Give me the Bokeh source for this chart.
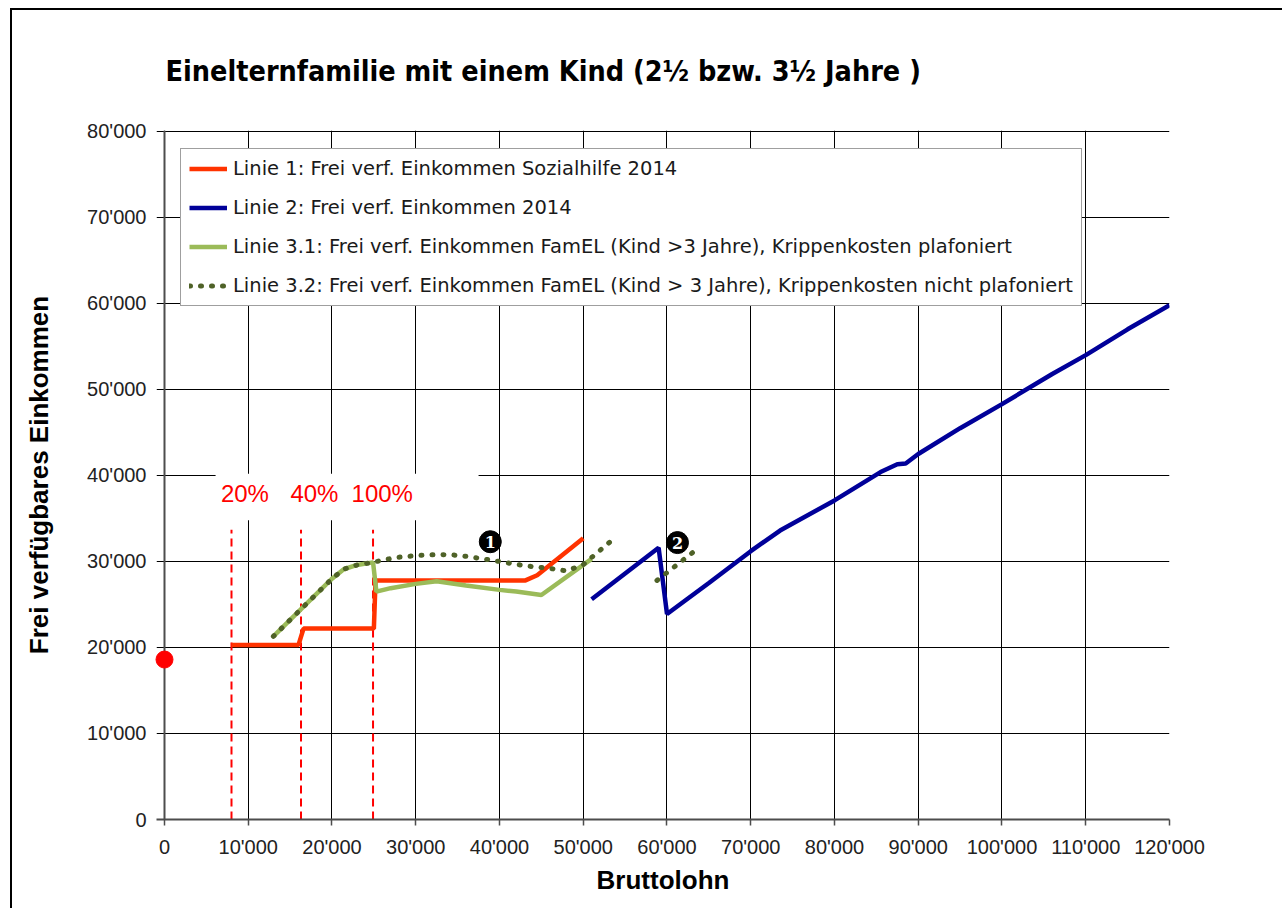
from bokeh.plotting import figure
from bokeh.models import Range1d, FixedTicker, Legend, LegendItem, Span
from bokeh.core.properties import value
from bokeh.embed import file_html
from bokeh.resources import INLINE

# ---------------- data ----------------
title_text = "Einelternfamilie mit einem Kind (2½ bzw. 3½ Jahre )"
x_axis_title = "Bruttolohn"
y_axis_title = "Frei verfügbares Einkommen"

x_ticks = [0, 10000, 20000, 30000, 40000, 50000, 60000, 70000, 80000, 90000, 100000, 110000, 120000]
x_tick_labels = ["0", "10'000", "20'000", "30'000", "40'000", "50'000", "60'000", "70'000",
                 "80'000", "90'000", "100'000", "110'000", "120'000"]
y_ticks = [0, 10000, 20000, 30000, 40000, 50000, 60000, 70000, 80000]
y_tick_labels = ["0", "10'000", "20'000", "30'000", "40'000", "50'000", "60'000", "70'000", "80'000"]

legend_labels = [
    "Linie 1: Frei verf. Einkommen Sozialhilfe 2014",
    "Linie 2: Frei verf. Einkommen 2014",
    "Linie 3.1: Frei verf. Einkommen FamEL (Kind >3 Jahre), Krippenkosten plafoniert",
    "Linie 3.2: Frei verf. Einkommen FamEL (Kind > 3 Jahre), Krippenkosten nicht plafoniert",
]

# Linie 1: Sozialhilfe
sozialhilfe_x = [8000, 16000, 16600, 25000, 25200, 43100, 44500, 50000]
sozialhilfe_y = [20300, 20300, 22200, 22200, 27800, 27800, 28400, 32700]

# Linie 2: Frei verf. Einkommen 2014
eink2014_x = [51000, 59000, 60000, 65000, 70000, 73500, 80000, 85500, 87500, 88500,
              90000, 95000, 100000, 106000, 110000, 115000, 120000]
eink2014_y = [25600, 31600, 23900, 27500, 31200, 33600, 37100, 40400, 41300, 41400,
              42500, 45500, 48300, 51800, 54000, 57000, 59800]

# Linie 3.1: FamEL, Krippenkosten plafoniert
famel_plaf_x = [13000, 20000, 21400, 23000, 24900, 25300, 27000, 30000, 32500, 36000,
                40000, 42000, 45000, 51000]
famel_plaf_y = [21300, 28000, 29100, 29600, 29900, 26500, 26900, 27400, 27700, 27200,
                26700, 26500, 26100, 30300]

# Linie 3.2: FamEL, Krippenkosten nicht plafoniert (two pieces)
famel_nplaf_x = [13000, 20000, 21400, 23000, 24900, 26200, 28000, 30200, 32500, 34200,
                 36000, 38100, 40000, 42100, 44000, 46000, 48000, 50000, 53400,
                 float("nan"), 58800, 63800]
famel_nplaf_y = [21300, 28000, 29100, 29600, 29900, 30200, 30500, 30700, 30800, 30780,
                 30600, 30300, 30000, 29650, 29400, 29200, 28900, 29650, 32450,
                 float("nan"), 27800, 31600]

# start point (Bruttolohn 0)
start_x = [0]
start_y = [18600]

# employment-level markers
level_x = [8000, 16300, 24900]
level_top = [33700, 33700, 33700]
level_labels = ["20%", "40%", "100%"]
level_label_x = [9600, 17900, 26000]
level_label_y = [37900, 37900, 37900]

# numbered notes
note_x = [38900, 61250]
note_y = [32300, 32200]
note_text = ["1", "2"]

# ---------------- styling ----------------
SANS = "Liberation Sans"
COND = "DejaVu Sans Condensed"

X_START = -955          # leaves 8 px left of the value axis (tick-like grid stubs)
Y_END = 80116           # 1 px headroom so the top grid line stays visible
W, H = 1272, 900
FL, FT, FW, FH = 144, 120, 1013, 689

p = figure(width=W, height=H, output_backend="svg", toolbar_location=None,
           x_range=Range1d(X_START, 120000), y_range=Range1d(0, Y_END),
           min_border_left=FL, min_border_right=W - FL - FW,
           min_border_top=FT, min_border_bottom=H - FT - FH)
p.styles = {"margin-left": "10px", "margin-top": "8px",
            "border-left": "2px solid #000", "border-top": "2px solid #000"}
p.background_fill_color = "white"
p.border_fill_color = "white"
p.outline_line_color = None

# title
p.title.text = title_text
p.title.align = "left"
p.title.offset = 9
p.title.standoff = 85
p.title.text_font = COND
p.title.text_font_style = "bold"
p.title.text_font_size = "28.5px"
p.title.text_color = "#000000"

# grid
p.xgrid.ticker = FixedTicker(ticks=x_ticks)
p.ygrid.ticker = FixedTicker(ticks=y_ticks)
for g in (p.xgrid, p.ygrid):
    g.grid_line_color = "#000000"
    g.grid_line_width = 1
    g.grid_line_alpha = 1

# axes
p.xaxis.ticker = FixedTicker(ticks=x_ticks)
p.yaxis.ticker = FixedTicker(ticks=y_ticks)
p.xaxis.major_label_overrides = {t: l for t, l in zip(x_ticks, x_tick_labels)}
p.yaxis.major_label_overrides = {t: l for t, l in zip(y_ticks, y_tick_labels)}
for ax in (p.xaxis, p.yaxis):
    ax.axis_line_color = "#4d4d4d"
    ax.axis_line_width = 2
    ax.major_tick_line_color = "#4d4d4d"
    ax.major_tick_line_width = 1.5
    ax.major_tick_in = 0
    ax.minor_tick_line_color = None
    ax.major_label_text_font = SANS
    ax.major_label_text_font_size = "20px"
    ax.major_label_text_color = "#222222"
    ax.axis_label_text_font = SANS
    ax.axis_label_text_font_style = "bold"
    ax.axis_label_text_font_size = "26px"
    ax.axis_label_text_color = "#000000"
p.yaxis.axis_line_color = None
p.yaxis.major_tick_out = 0
p.xaxis.major_tick_out = 6
p.xaxis.major_label_standoff = 10
p.yaxis.major_label_standoff = 10
p.xaxis.axis_label = x_axis_title
p.yaxis.axis_label = y_axis_title
p.xaxis.axis_label_standoff = 4
p.yaxis.axis_label_standoff = 30

# value axis line at Bruttolohn = 0
p.add_layout(Span(location=0, dimension="height", line_color="#4d4d4d", line_width=2))

# white label box behind percentage labels
p.quad(left=[6100], right=[37500], bottom=[34800], top=[40200],
       fill_color="white", line_color=None)

# dashed level lines
p.segment(x0=level_x, y0=[0, 0, 0], x1=level_x, y1=level_top,
          line_color="#ff0000", line_width=2, line_dash="8 5")
p.text(x=level_label_x, y=level_label_y, text=level_labels,
       text_font=value(SANS), text_font_size="24px", text_color="#ff0000",
       text_align="center", text_baseline="middle")

# series
r1 = p.line(sozialhilfe_x, sozialhilfe_y, line_color="#ff3300", line_width=4.5)
r2 = p.line(eink2014_x, eink2014_y, line_color="#000099", line_width=4.5)
r3 = p.line(famel_plaf_x, famel_plaf_y, line_color="#9bbb59", line_width=4.5)
r4 = p.line(famel_nplaf_x, famel_nplaf_y, line_color="#4f6228", line_width=5,
            line_dash="1 10", line_cap="round")

# start dot (drawn above the axis line)
p.scatter(start_x, start_y, size=17, color="#ff0000", level="overlay")

# numbered notes
p.scatter(note_x, note_y, size=22, color="#000000")
p.text(x=note_x, y=note_y, text=note_text, text_font=value("DejaVu Serif"),
       text_font_style="bold", text_font_size="16px", text_color="white",
       text_align="center", text_baseline="middle")

# legend
legend = Legend(items=[LegendItem(label=legend_labels[0], renderers=[r1]),
                       LegendItem(label=legend_labels[1], renderers=[r2]),
                       LegendItem(label=legend_labels[2], renderers=[r3]),
                       LegendItem(label=legend_labels[3], renderers=[r4])],
                location=(24, 513), orientation="vertical")
legend.border_line_color = "#404040"
legend.border_line_width = 1
legend.background_fill_color = "white"
legend.background_fill_alpha = 1
legend.padding = 8
legend.spacing = 16
legend.margin = 0
legend.label_height = 21
legend.glyph_height = 21
legend.glyph_width = 38
legend.label_standoff = 6
legend.label_text_font = "DejaVu Sans"
legend.label_text_font_size = "19.5px"
legend.label_text_color = "#1a1a1a"
p.add_layout(legend)

html = file_html(p, INLINE)
open("out.html", "w").write(html)
